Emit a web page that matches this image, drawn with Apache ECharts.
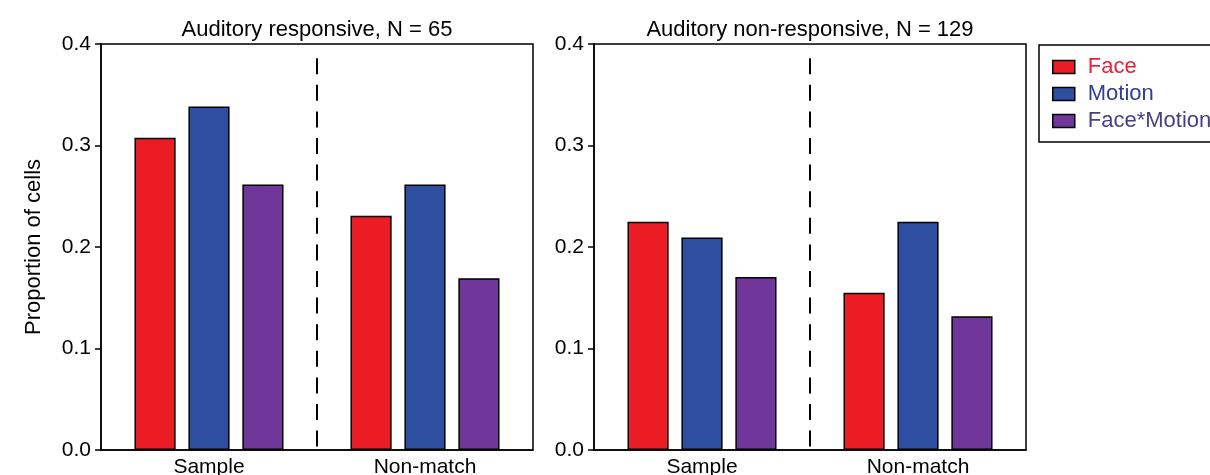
<!DOCTYPE html>
<html>
<head>
<meta charset="utf-8">
<script src="https://cdn.jsdelivr.net/npm/echarts@6/dist/echarts.min.js"></script>
<style>
html,body{margin:0;padding:0;background:#fff;}
#chart{width:1210px;height:475px;}
</style>
</head>
<body>
<div id="chart"></div>
<script>
const categories = ['Sample', 'Non-match'];
const seriesNames = ['Face', 'Motion', 'Face*Motion'];
const panelTitles = ['Auditory responsive, N = 65', 'Auditory non-responsive, N = 129'];
// Left panel (N = 65)
const respFace = [0.3077, 0.2308];
const respMotion = [0.3385, 0.2615];
const respFaceMotion = [0.2615, 0.1692];
// Right panel (N = 129)
const nonRespFace = [0.2248, 0.1550];
const nonRespMotion = [0.2093, 0.2248];
const nonRespFaceMotion = [0.1705, 0.1318];
// Dashed divider between categories (x in hidden value axis, y top/bottom)
const dividerLine = [[1, 0.386], [1, 0]];
const yTicks = [0, 0.1, 0.2, 0.3, 0.4];

const barColors = ['#ec1c24', '#2e4ea0', '#70369a'];
const legendTextColors = ['#e8203a', '#2e3f8f', '#4a3d84'];
const FONT = 'Liberation Sans, Arial, sans-serif';

const grids = [
  {left: 101, top: 44, width: 432, height: 406},
  {left: 594, top: 44, width: 432, height: 406}
];

function xCat(gi) {
  return {
    type: 'category', gridIndex: gi, data: categories,
    axisLine: {show: true, lineStyle: {color: '#000', width: 1.5}},
    axisTick: {show: false},
    axisLabel: {color: '#000', fontSize: 21, fontFamily: FONT, margin: 7},
    splitLine: {show: false}
  };
}
function yVal(gi, withName) {
  const ax = {
    type: 'value', gridIndex: gi, min: yTicks[0], max: yTicks[yTicks.length - 1], interval: 0.1,
    axisLine: {show: true, lineStyle: {color: '#000', width: 1.5}},
    axisTick: {show: true, length: 6, lineStyle: {color: '#000', width: 1.5}},
    axisLabel: {color: '#000', fontSize: 21, fontFamily: FONT, margin: 10,
      formatter: v => v.toFixed(1)},
    splitLine: {show: false}
  };
  if (withName) {
    ax.name = 'Proportion of cells';
    ax.nameLocation = 'middle';
    ax.nameRotate = 90;
    ax.nameGap = 56;
    ax.nameTextStyle = {color: '#000', fontSize: 22, fontFamily: FONT};
  }
  return ax;
}

const panelData = [
  [respFace, respMotion, respFaceMotion],
  [nonRespFace, nonRespMotion, nonRespFaceMotion]
];

const series = [];
panelData.forEach((set, gi) => {
  set.forEach((vals, si) => {
    series.push({
      type: 'bar', name: seriesNames[si], xAxisIndex: gi, yAxisIndex: gi,
      data: vals, barCategoryGap: '31%', barGap: '31%',
      itemStyle: {color: barColors[si], borderColor: '#000', borderWidth: 1.5},
      emphasis: {disabled: true}
    });
  });
  series.push({
    type: 'line', name: 'divider' + gi, xAxisIndex: 2 + gi, yAxisIndex: gi,
    data: dividerLine, symbol: 'none', silent: true,
    lineStyle: {color: '#000', width: 2, type: [16, 10.6]}
  });
});

const chart = echarts.init(document.getElementById('chart'), null, {renderer: 'canvas'});
chart.setOption({
  animation: false,
  backgroundColor: '#fff',
  title: panelTitles.map((t, i) => ({
    text: t, left: grids[i].left + grids[i].width / 2, top: 19, textAlign: 'center', padding: 0,
    textStyle: {color: '#000', fontSize: 22, fontWeight: 'normal', fontFamily: FONT}
  })),
  legend: {
    orient: 'vertical', left: 1039, top: 45,
    padding: [11, 14, 10, 13], itemGap: 5, itemWidth: 22, itemHeight: 13,
    borderColor: '#000', borderWidth: 1.5,
    selectedMode: false, icon: 'rect',
    data: seriesNames.map((n, i) => ({
      name: n, icon: 'rect',
      itemStyle: {color: barColors[i], borderColor: '#000', borderWidth: 1.5},
      textStyle: {color: legendTextColors[i], fontSize: 22, fontFamily: FONT, padding: [0, 0, 0, 8]}
    }))
  },
  grid: grids.map(g => Object.assign({show: true, borderColor: '#000', borderWidth: 1.5,
    backgroundColor: 'transparent', containLabel: false, outerBoundsMode: 'none'}, g)),
  xAxis: [xCat(0), xCat(1),
    {type: 'value', gridIndex: 0, min: 0, max: 2, show: false},
    {type: 'value', gridIndex: 1, min: 0, max: 2, show: false}],
  yAxis: [yVal(0, true), yVal(1, false)],
  series: series
});
</script>
</body>
</html>
